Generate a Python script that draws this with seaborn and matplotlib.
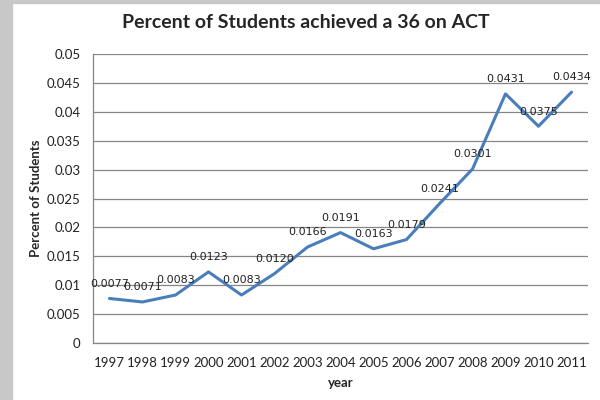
import numpy as np
import pandas as pd
import seaborn as sns
import matplotlib.pyplot as plt
from matplotlib.patches import Rectangle
from matplotlib.ticker import FuncFormatter

sns.set_style("white")
plt.rcParams['font.family'] = ['Lato', 'DejaVu Sans']

years = ["1997", "1998", "1999", "2000", "2001", "2002", "2003", "2004",
         "2005", "2006", "2007", "2008", "2009", "2010", "2011"]
percent = [0.0077, 0.0071, 0.0083, 0.0123, 0.0083, 0.0120, 0.0166, 0.0191,
           0.0163, 0.0179, 0.0241, 0.0301, 0.0431, 0.0375, 0.0434]
labels = ["0.0077", "0.0071", "0.0083", "0.0123", "0.0083", "0.0120", "0.0166", "0.0191",
          "0.0163", "0.0179", "0.0241", "0.0301", "0.0431", "0.0375", "0.0434"]

df = pd.DataFrame({"pos": np.arange(len(years)), "year": years, "percent": percent})

fig = plt.figure(figsize=(6, 4), dpi=100)
fig.patch.set_facecolor("white")
# gray frame on left and top
fig.patches.append(Rectangle((0, 0), 12 / 600, 1, transform=fig.transFigure,
                             color="#c8c8c8", zorder=0))
fig.patches.append(Rectangle((0, 1 - 3 / 400), 1, 3 / 400, transform=fig.transFigure,
                             color="#c8c8c8", zorder=0))

ax = fig.add_axes([93 / 600, 57 / 400, 495 / 600, 289 / 400])
sns.lineplot(data=df, x="pos", y="percent", ax=ax, color="#4a7ebb", linewidth=2.2)

for i, v in enumerate(percent):
    ax.annotate(labels[i], (i, v), xytext=(0, 7), textcoords="offset points",
                ha="center", va="bottom", fontsize=8, family="DejaVu Sans", color="#222222")

ax.set_xlim(-0.5, len(years) - 0.5)
ax.set_ylim(0, 0.05)
ax.set_yticks(np.arange(0, 0.0501, 0.005))
ax.yaxis.set_major_formatter(FuncFormatter(lambda v, p: "%g" % round(v, 4)))
ax.set_xticks(df["pos"])
ax.set_xticklabels(years)
ax.set_xticks(np.arange(-0.5, len(years), 1), minor=True)
ax.tick_params(axis="x", which="major", length=0, pad=10, labelsize=9.5, colors="#222222")
ax.tick_params(axis="x", which="minor", length=4, color="#868686", direction="out")
ax.tick_params(axis="y", length=4, color="#868686", labelsize=9.5, colors="#222222", pad=5)
ax.yaxis.grid(True, color="#868686", linewidth=0.9)
ax.xaxis.grid(False)
for s in ["top", "right"]:
    ax.spines[s].set_visible(False)
for s in ["left", "bottom"]:
    ax.spines[s].set_color("#868686")
    ax.spines[s].set_linewidth(0.9)

ax.set_xlabel("year", fontsize=9.5, fontweight="bold", labelpad=6)
ax.set_ylabel("Percent of Students", fontsize=9.5, fontweight="bold", labelpad=3)
fig.text(306 / 600, 1 - 23 / 400, "Percent of Students achieved a 36 on ACT",
         ha="center", va="center", fontsize=14, fontweight="bold")

fig.savefig("out.png", dpi=100)
